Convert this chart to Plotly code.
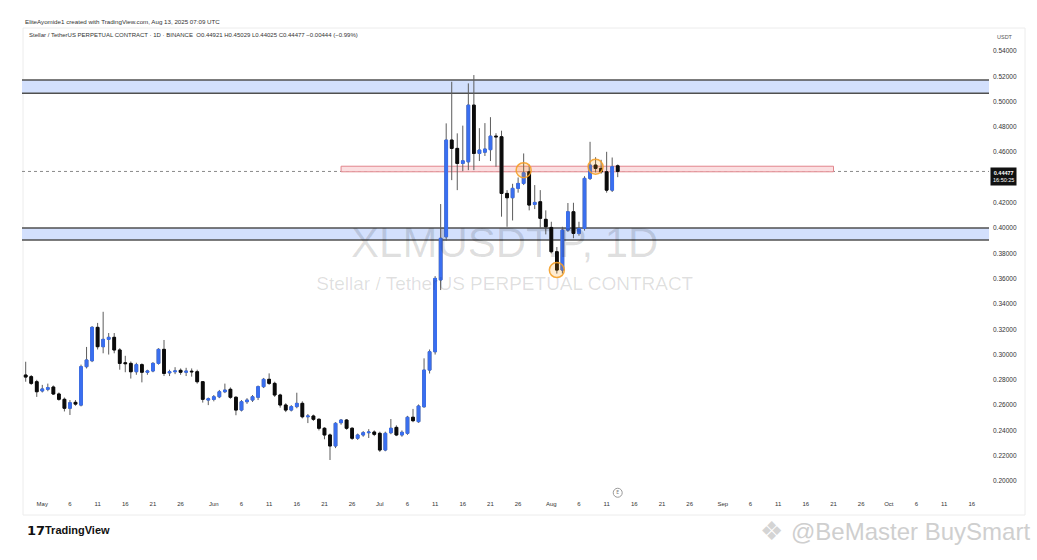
import plotly.graph_objects as go
import pandas as pd

W, H = 1037, 560

# ---------------- data (daily XLMUSDT.P) ----------------
start_date = "2025-04-28"

open_apr = [0.2838, 0.2825, 0.2785]
high_apr = [0.2943, 0.2838, 0.2800]
low_apr = [0.2785, 0.2760, 0.2665]
close_apr = [0.2822, 0.2772, 0.2706]

open_may = [0.2712, 0.2725, 0.2743, 0.2688, 0.2646, 0.2575, 0.2622, 0.2600, 0.2904, 0.2951,
            0.3215, 0.3062, 0.3120, 0.3136, 0.3036, 0.2935, 0.2930, 0.2864, 0.2920, 0.2860,
            0.2870, 0.2930, 0.3041, 0.2855, 0.2864, 0.2875, 0.2860, 0.2868, 0.2864, 0.2785,
            0.2640]
high_may = [0.2760, 0.2770, 0.2755, 0.2700, 0.2660, 0.2640, 0.2640, 0.2920, 0.3060, 0.3225,
            0.3250, 0.3338, 0.3170, 0.3170, 0.3050, 0.2990, 0.2945, 0.2935, 0.2930, 0.2880,
            0.2940, 0.3050, 0.3115, 0.2880, 0.2900, 0.2890, 0.2895, 0.2890, 0.2880, 0.2790,
            0.2660]
low_may = [0.2700, 0.2710, 0.2680, 0.2635, 0.2550, 0.2522, 0.2595, 0.2590, 0.2890, 0.2940,
           0.3040, 0.3010, 0.3000, 0.3010, 0.2880, 0.2860, 0.2810, 0.2840, 0.2780, 0.2840,
           0.2860, 0.2920, 0.2830, 0.2830, 0.2845, 0.2840, 0.2830, 0.2825, 0.2770, 0.2620,
           0.2600]
close_may = [0.2728, 0.2738, 0.2688, 0.2646, 0.2575, 0.2619, 0.2608, 0.2904, 0.2957, 0.3215,
             0.3062, 0.3120, 0.3136, 0.3036, 0.2930, 0.2928, 0.2864, 0.2920, 0.2860, 0.2870,
             0.2930, 0.3041, 0.2851, 0.2864, 0.2870, 0.2860, 0.2868, 0.2864, 0.2785, 0.2646,
             0.2650]

open_jun = [0.2645, 0.2666, 0.2706, 0.2725, 0.2662, 0.2561, 0.2627, 0.2640, 0.2662, 0.2746,
            0.2804, 0.2772, 0.2680, 0.2601, 0.2561, 0.2588, 0.2614, 0.2508, 0.2514, 0.2488,
            0.2417, 0.2364, 0.2277, 0.2461, 0.2482, 0.2417, 0.2338, 0.2364, 0.2382, 0.2387]
high_jun = [0.2680, 0.2720, 0.2770, 0.2740, 0.2670, 0.2640, 0.2655, 0.2680, 0.2755, 0.2815,
            0.2851, 0.2785, 0.2690, 0.2615, 0.2600, 0.2698, 0.2630, 0.2530, 0.2525, 0.2495,
            0.2425, 0.2375, 0.2465, 0.2490, 0.2490, 0.2425, 0.2375, 0.2395, 0.2410, 0.2400]
low_jun = [0.2630, 0.2655, 0.2695, 0.2650, 0.2520, 0.2550, 0.2610, 0.2625, 0.2640, 0.2735,
           0.2760, 0.2665, 0.2580, 0.2545, 0.2550, 0.2575, 0.2495, 0.2458, 0.2475, 0.2400,
           0.2330, 0.2166, 0.2260, 0.2445, 0.2405, 0.2325, 0.2325, 0.2350, 0.2340, 0.2355]
close_jun = [0.2666, 0.2706, 0.2719, 0.2662, 0.2561, 0.2627, 0.2640, 0.2666, 0.2746, 0.2804,
             0.2772, 0.2680, 0.2601, 0.2561, 0.2588, 0.2614, 0.2508, 0.2514, 0.2488, 0.2417,
             0.2364, 0.2277, 0.2456, 0.2482, 0.2417, 0.2338, 0.2364, 0.2382, 0.2387, 0.2369]

open_jul = [0.2377, 0.2245, 0.2382, 0.2424, 0.2364, 0.2377, 0.2504, 0.2469, 0.2587, 0.2877,
            0.3022, 0.3590, 0.3931, 0.4696, 0.4630, 0.4511, 0.4524, 0.4972, 0.4590, 0.4600,
            0.4620, 0.4727, 0.4722, 0.4274, 0.4240, 0.4314, 0.4353, 0.4445, 0.4187, 0.4208,
            0.4069]
high_jul = [0.2390, 0.2390, 0.2490, 0.2440, 0.2400, 0.2515, 0.2570, 0.2605, 0.2970, 0.3040,
            0.3620, 0.4190, 0.4828, 0.5157, 0.4749, 0.4810, 0.5144, 0.5210, 0.4790, 0.4830,
            0.4877, 0.4750, 0.4770, 0.4300, 0.4350, 0.4400, 0.4590, 0.4500, 0.4340, 0.4300,
            0.4140]
low_jul = [0.2230, 0.2235, 0.2370, 0.2355, 0.2350, 0.2365, 0.2465, 0.2460, 0.2580, 0.2850,
           0.3000, 0.3510, 0.3900, 0.4379, 0.4300, 0.4450, 0.4458, 0.4458, 0.4530, 0.4570,
           0.4530, 0.4485, 0.4090, 0.4010, 0.4060, 0.4280, 0.4340, 0.4140, 0.4150, 0.4000,
           0.3950]
close_jul = [0.2245, 0.2377, 0.2417, 0.2364, 0.2385, 0.2504, 0.2477, 0.2593, 0.2877, 0.3022,
             0.3602, 0.3919, 0.4696, 0.4630, 0.4511, 0.4532, 0.4972, 0.4590, 0.4617, 0.4625,
             0.4727, 0.4722, 0.4274, 0.4240, 0.4314, 0.4353, 0.4437, 0.4182, 0.4203, 0.4077,
             0.4010]

open_aug = [0.4005, 0.3813, 0.3668, 0.3984, 0.4129, 0.3958, 0.3997, 0.4393, 0.4498, 0.4472,
            0.4445, 0.4300, 0.44921]
high_aug = [0.4050, 0.3850, 0.4010, 0.4198, 0.4200, 0.4050, 0.4410, 0.4682, 0.4560, 0.4540,
            0.4603, 0.4558, 0.45029]
low_aug = [0.3800, 0.3640, 0.3640, 0.3970, 0.3920, 0.3940, 0.3980, 0.4380, 0.4440, 0.4430,
           0.4280, 0.4285, 0.44025]
close_aug = [0.3813, 0.3668, 0.3984, 0.4129, 0.3958, 0.3997, 0.4393, 0.4498, 0.4472, 0.4445,
             0.4300, 0.4485, 0.44477]

open_ = open_apr + open_may + open_jun + open_jul + open_aug
high = high_apr + high_may + high_jun + high_jul + high_aug
low = low_apr + low_may + low_jun + low_jul + low_aug
close = close_apr + close_may + close_jun + close_jul + close_aug
dates = pd.date_range(start_date, periods=len(close), freq="D")

body_top = [max(o, c) for o, c in zip(open_, close)]
body_bot = [min(o, c) for o, c in zip(open_, close)]

# axis ticks
y_tick_vals = [0.20, 0.22, 0.24, 0.26, 0.28, 0.30, 0.32, 0.34, 0.36, 0.38, 0.40, 0.42,
               0.46, 0.48, 0.50, 0.52, 0.54]
x_tick_dates = ["2025-05-01", "2025-05-06", "2025-05-11", "2025-05-16", "2025-05-21", "2025-05-26",
                "2025-06-01", "2025-06-06", "2025-06-11", "2025-06-16", "2025-06-21", "2025-06-26",
                "2025-07-01", "2025-07-06", "2025-07-11", "2025-07-16", "2025-07-21", "2025-07-26",
                "2025-08-01", "2025-08-06", "2025-08-11", "2025-08-16", "2025-08-21", "2025-08-26",
                "2025-09-01", "2025-09-06", "2025-09-11", "2025-09-16", "2025-09-21", "2025-09-26",
                "2025-10-01", "2025-10-06", "2025-10-11", "2025-10-16"]
x_tick_text = ["May", "6", "11", "16", "21", "26", "Jun", "6", "11", "16", "21", "26",
               "Jul", "6", "11", "16", "21", "26", "Aug", "6", "11", "16", "21", "26",
               "Sep", "6", "11", "16", "21", "26", "Oct", "6", "11", "16"]

# drawings
upper_zone = [0.5067, 0.5170]
lower_zone = [0.3905, 0.4000]
red_zone_dates = ["2025-06-24", "2025-09-21"]
red_zone_prices = [0.4445, 0.4489]
circle_dates = ["2025-07-27", "2025-08-09", "2025-08-02"]
circle_prices = [0.4458, 0.4485, 0.3668]
event_date = ["2025-08-13"]
event_price = [0.1907]

x_range = ["2025-04-27 08:00", "2025-10-19 02:30"]
y_range = [0.18735, 0.5582]

BLUE = "#3a6ff0"
BLACK = "#0b0b0b"
WICK = "#5c5c5c"
FONT = "Liberation Sans, Arial, sans-serif"

def px(x):
    return x / W

def py(y):
    return 1 - y / H

fig = go.Figure()

# watermark (below candles)
fig.add_trace(go.Scatter(
    x=["2025-07-23 14:00", "2025-07-23 14:00"], y=[0.3858, 0.3550],
    mode="text", text=["XLMUSDT.P, 1D", "Stellar / TetherUS PERPETUAL CONTRACT"],
    textfont=dict(size=[42, 19], color="rgba(0,0,0,0.13)", family=FONT),
    hoverinfo="skip", showlegend=False))

# wicks
fig.add_trace(go.Candlestick(
    x=dates, open=open_, high=high, low=low, close=close,
    increasing=dict(line=dict(color=WICK, width=1), fillcolor=WICK),
    decreasing=dict(line=dict(color=WICK, width=1), fillcolor=WICK),
    whiskerwidth=0, hoverinfo="skip", showlegend=False))

# bodies
fig.add_trace(go.Candlestick(
    x=dates, open=open_, high=body_top, low=body_bot, close=close,
    increasing=dict(line=dict(color=BLUE, width=1), fillcolor=BLUE),
    decreasing=dict(line=dict(color=BLACK, width=1), fillcolor=BLACK),
    whiskerwidth=0, showlegend=False))

# orange circles
fig.add_trace(go.Scatter(
    x=circle_dates, y=circle_prices, mode="markers",
    marker=dict(size=15, color="rgba(255,152,0,0.18)",
                line=dict(color="rgba(245,160,40,0.9)", width=1.5)),
    hoverinfo="skip", showlegend=False))

# event marker on time scale
fig.add_trace(go.Scatter(
    x=event_date, y=event_price, mode="markers+text", text=["E"],
    textfont=dict(size=5, color="#777"), textposition="middle center",
    marker=dict(size=9, color="white", line=dict(color="#9a9a9a", width=1)),
    hoverinfo="skip", showlegend=False, cliponaxis=False))

shapes = []
# chart frame
shapes.append(dict(type="rect", xref="paper", yref="paper",
                   x0=px(23), x1=px(1025), y0=py(515), y1=py(28),
                   line=dict(color="#ececec", width=1), fillcolor="rgba(0,0,0,0)", layer="below"))
# support / resistance bands
for lo, hi in (upper_zone, lower_zone):
    shapes.append(dict(type="rect", xref="x domain", yref="y", x0=0, x1=1, y0=lo, y1=hi,
                       fillcolor="#d3e0fd", line=dict(width=0), layer="below"))
    for v in (lo, hi):
        shapes.append(dict(type="line", xref="x domain", yref="y", x0=0, x1=1, y0=v, y1=v,
                           line=dict(color="#505050", width=1.5), layer="below"))
# red zone
shapes.append(dict(type="rect", xref="x", yref="y",
                   x0=red_zone_dates[0], x1=red_zone_dates[1],
                   y0=red_zone_prices[0], y1=red_zone_prices[1],
                   fillcolor="#fbdfe1", line=dict(color="#e2868c", width=1), layer="below"))
# last price line
shapes.append(dict(type="line", xref="x domain", yref="y", x0=0, x1=1,
                   y0=close[-1], y1=close[-1],
                   line=dict(color="#8a8a8a", width=1, dash="dot"), layer="below"))

annotations = [
    dict(xref="paper", yref="paper", x=px(23), y=py(22), xanchor="left", yanchor="middle",
         text="EliteAyomide1 created with TradingView.com, Aug 13, 2025 07:09 UTC",
         showarrow=False, font=dict(size=6.2, color="#333", family=FONT)),
    dict(xref="paper", yref="paper", x=px(27), y=py(35), xanchor="left", yanchor="middle",
         text=("Stellar / TetherUS PERPETUAL CONTRACT · 1D · BINANCE  "
               f"O{open_[-1]:.5f} H{high[-1]:.5f} L{low[-1]:.5f} C{close[-1]:.5f} "
               f"−{open_[-1]-close[-1]:.5f} (−{(open_[-1]-close[-1])/open_[-1]*100:.2f}%)"),
         showarrow=False, font=dict(size=6, color="#333", family=FONT)),
    dict(xref="paper", yref="paper", x=px(1005), y=py(37), xanchor="center", yanchor="middle",
         text="USDT", showarrow=False, font=dict(size=5.5, color="#555", family=FONT)),
    dict(xref="paper", yref="y", x=px(990), y=close[-1], xanchor="left", yanchor="top",
         yshift=4,
         text=f"<b>{close[-1]:.5f}</b><br>16:50:25", showarrow=False, align="center",
         bgcolor="#111", borderpad=2, font=dict(size=5.5, color="white", family=FONT)),
    dict(xref="paper", yref="paper", x=px(25), y=py(530), xanchor="left", yanchor="middle",
         text="<b>17</b>", showarrow=False, font=dict(size=13, color="#111", family="DejaVu Sans")),
    dict(xref="paper", yref="paper", x=px(43), y=py(530), xanchor="left", yanchor="middle",
         text="<b>TradingView</b>", showarrow=False, font=dict(size=11, color="#111", family=FONT)),
    dict(xref="paper", yref="paper", x=px(771), y=py(531), xanchor="center", yanchor="middle",
         text="❖", showarrow=False, font=dict(size=26, color="#d4d4d4", family="DejaVu Sans")),
    dict(xref="paper", yref="paper", x=px(1032), y=py(531), xanchor="right", yanchor="middle",
         text="@BeMaster BuySmart", showarrow=False,
         font=dict(size=24, color="#cfcfcf", family=FONT)),
]

fig.update_layout(
    width=W, height=H, margin=dict(l=0, r=0, t=0, b=0),
    paper_bgcolor="white", plot_bgcolor="white",
    showlegend=False, shapes=shapes, annotations=annotations,
    boxgap=0.3,
    xaxis=dict(type="date", domain=[px(22), px(989)], range=x_range,
               tickvals=x_tick_dates, ticktext=x_tick_text, ticks="",
               ticklabelstandoff=2,
               tickfont=dict(size=6, color="#333", family=FONT),
               showgrid=False, zeroline=False, showline=False,
               rangeslider=dict(visible=False), fixedrange=True),
    yaxis=dict(domain=[py(497), py(28)], range=y_range, side="right",
               tickvals=y_tick_vals, tickformat=".5f", ticks="",
               ticklabelstandoff=3,
               tickfont=dict(size=6.5, color="#333", family=FONT),
               showgrid=False, zeroline=False, showline=False, fixedrange=True),
)

fig.write_html(
    "out.html",
    config={"displayModeBar": False},
    post_script="document.body.style.margin='0px';document.body.style.overflow='hidden';",
)
